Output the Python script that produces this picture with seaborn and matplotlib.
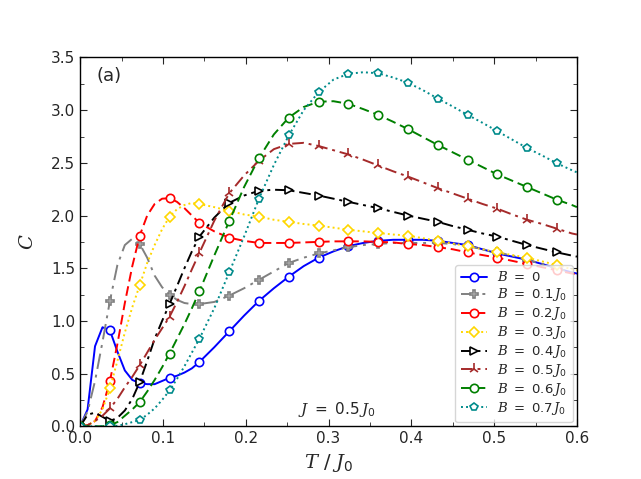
import numpy as np
import pandas as pd
import matplotlib
matplotlib.use("Agg")
import matplotlib.pyplot as plt
import seaborn as sns
from matplotlib.ticker import MultipleLocator

# temperature grid T/J0 (finer at low T where the curves bend sharply)
T = [0.0, 0.009, 0.018, 0.027, 0.036, 0.045, 0.054, 0.063, 0.072, 0.081, 0.09,
     0.099, 0.108, 0.117, 0.126, 0.135, 0.144,
     0.162, 0.18, 0.198, 0.216, 0.234, 0.252, 0.27, 0.288, 0.306, 0.324, 0.342,
     0.36, 0.378, 0.396, 0.414, 0.432, 0.45, 0.468, 0.486, 0.504, 0.522, 0.54,
     0.558, 0.576, 0.594, 0.6]

C_B00 = [0.0, 0.16, 0.76, 0.94, 0.91, 0.71, 0.53, 0.44, 0.41, 0.40, 0.40,
         0.43, 0.46, 0.48, 0.51, 0.55, 0.61,
         0.75, 0.90, 1.05, 1.19, 1.31, 1.42, 1.52, 1.60, 1.66, 1.71, 1.74,
         1.76, 1.77, 1.77, 1.77, 1.76, 1.74, 1.72, 1.68, 1.64, 1.61, 1.58,
         1.54, 1.50, 1.46, 1.45]
C_B01 = [0.0, 0.14, 0.43, 0.80, 1.19, 1.53, 1.72, 1.78, 1.73, 1.60, 1.43,
         1.32, 1.25, 1.20, 1.17, 1.16, 1.16,
         1.18, 1.24, 1.31, 1.39, 1.47, 1.55, 1.60, 1.64, 1.67, 1.70, 1.72,
         1.73, 1.74, 1.74, 1.74, 1.74, 1.73, 1.71, 1.68, 1.65, 1.62, 1.58,
         1.54, 1.50, 1.46, 1.45]
C_B02 = [0.0, 0.01, 0.05, 0.18, 0.43, 0.78, 1.17, 1.52, 1.81, 2.00, 2.11,
         2.16, 2.165, 2.13, 2.07, 2.00, 1.93,
         1.85, 1.79, 1.76, 1.74, 1.74, 1.74, 1.745, 1.75, 1.755, 1.755, 1.755,
         1.75, 1.745, 1.73, 1.72, 1.70, 1.68, 1.65, 1.625, 1.60, 1.57, 1.54,
         1.51, 1.48, 1.45, 1.44]
C_B03 = [0.0, 0.01, 0.05, 0.16, 0.36, 0.62, 0.89, 1.13, 1.34, 1.55, 1.72,
         1.87, 1.99, 2.06, 2.10, 2.12, 2.11,
         2.08, 2.045, 2.01, 1.99, 1.96, 1.94, 1.92, 1.905, 1.885, 1.865, 1.85,
         1.835, 1.82, 1.81, 1.785, 1.76, 1.735, 1.71, 1.68, 1.65, 1.625, 1.60,
         1.565, 1.53, 1.49, 1.48]
C_B04 = [0.0, 0.11, 0.13, 0.09, 0.05, 0.08, 0.15, 0.26, 0.42, 0.62, 0.83,
         1.00, 1.16, 1.33, 1.50, 1.66, 1.80,
         1.98, 2.12, 2.19, 2.235, 2.245, 2.24, 2.215, 2.19, 2.16, 2.13, 2.10,
         2.07, 2.035, 2.00, 1.97, 1.94, 1.90, 1.865, 1.83, 1.80, 1.76, 1.72,
         1.685, 1.65, 1.62, 1.61]
C_B05 = [0.0, 0.01, 0.05, 0.10, 0.17, 0.26, 0.37, 0.47, 0.58, 0.70, 0.82,
         0.93, 1.04, 1.18, 1.33, 1.49, 1.645,
         1.95, 2.21, 2.38, 2.52, 2.63, 2.68, 2.69, 2.66, 2.62, 2.58, 2.53,
         2.475, 2.42, 2.37, 2.315, 2.26, 2.21, 2.16, 2.11, 2.065, 2.01, 1.96,
         1.92, 1.875, 1.83, 1.82]
C_B06 = [0.0, 0.0, 0.0, 0.0, 0.01, 0.04, 0.10, 0.16, 0.23, 0.33, 0.44,
         0.56, 0.69, 0.83, 0.97, 1.12, 1.28,
         1.62, 1.945, 2.27, 2.545, 2.77, 2.93, 3.03, 3.08, 3.085, 3.06, 3.01,
         2.955, 2.89, 2.82, 2.745, 2.67, 2.60, 2.53, 2.46, 2.39, 2.33, 2.27,
         2.21, 2.15, 2.10, 2.08]
C_B07 = [0.0, 0.0, 0.0, 0.0, 0.0, 0.005, 0.02, 0.04, 0.06, 0.11, 0.17,
         0.25, 0.34, 0.45, 0.57, 0.70, 0.83,
         1.12, 1.46, 1.80, 2.16, 2.48, 2.76, 3.00, 3.17, 3.29, 3.345, 3.36,
         3.35, 3.31, 3.26, 3.19, 3.11, 3.035, 2.955, 2.88, 2.80, 2.72, 2.64,
         2.57, 2.495, 2.43, 2.41]

labels = [r"$B\ =\ 0$", r"$B\ =\ 0.1\,J_0$", r"$B\ =\ 0.2\,J_0$", r"$B\ =\ 0.3\,J_0$",
          r"$B\ =\ 0.4\,J_0$", r"$B\ =\ 0.5\,J_0$", r"$B\ =\ 0.6\,J_0$", r"$B\ =\ 0.7\,J_0$"]
series = [C_B00, C_B01, C_B02, C_B03, C_B04, C_B05, C_B06, C_B07]

styles = [
    dict(color="blue", marker="o", ls="-"),
    dict(color="gray", marker="P", ls=(0, (8, 3, 1.5, 3))),
    dict(color="red", marker="o", ls=(0, (5, 2.5))),
    dict(color="gold", marker="D", ls=(0, (1, 1.6)), ms=5.5),
    dict(color="black", marker=">", ls=(0, (6, 2.5, 1.5, 2.5))),
    dict(color="brown", marker="2", ls=(0, (6, 2.5, 1.5, 2.5)), ms=8),
    dict(color="green", marker="o", ls=(0, (5, 2.5))),
    dict(color="darkcyan", marker="p", ls=(0, (1, 1.6))),
]

sns.set_style("ticks")
plt.rcParams["font.family"] = ["DejaVu Sans"]
plt.rcParams["mathtext.fontset"] = "custom"
plt.rcParams["mathtext.it"] = "DejaVu Serif:italic"
plt.rcParams["mathtext.rm"] = "DejaVu Sans"

# markers every 0.036 in T
mark_idx = [i for i, t in enumerate(T) if abs(t / 0.036 - round(t / 0.036)) < 1e-6 and t < 0.59]

fig, ax = plt.subplots(figsize=(6.41, 4.79), dpi=100)

for lab, vals, st in zip(labels, series, styles):
    df = pd.DataFrame({"T": T, "C": vals})
    st = dict(st)
    ms = st.pop("ms", 6)
    mfc = "none" if st["marker"] == "2" else "white"
    sns.lineplot(data=df, x="T", y="C", ax=ax, label=lab, errorbar=None, sort=False,
                 color=st["color"], marker=st["marker"], linestyle=st["ls"],
                 markersize=ms, markerfacecolor=mfc, markeredgecolor=st["color"],
                 markeredgewidth=1.2, linewidth=1.4, markevery=mark_idx)

ax.set_xlim(0, 0.6)
ax.set_ylim(0, 3.5)
ax.xaxis.set_major_locator(MultipleLocator(0.1))
ax.xaxis.set_minor_locator(MultipleLocator(0.05))
ax.yaxis.set_major_locator(MultipleLocator(0.5))
ax.yaxis.set_minor_locator(MultipleLocator(0.25))
ax.xaxis.set_major_formatter(matplotlib.ticker.FormatStrFormatter("%.1f"))
ax.yaxis.set_major_formatter(matplotlib.ticker.FormatStrFormatter("%.1f"))
ax.tick_params(which="both", direction="in", top=True, right=True, labelsize=11)
ax.tick_params(which="major", length=5)
ax.tick_params(which="minor", length=3)
for sp in ax.spines.values():
    sp.set_color("black")
    sp.set_linewidth(1.0)

ax.set_xlabel(r"$T\ /\ J_0$", fontsize=14)
ax.set_ylabel(r"$C$", fontsize=14, labelpad=10)
ax.text(0.02, 3.32, "(a)", fontsize=13, va="center")
ax.text(0.263, 0.16, r"$J\ =\ 0.5\,J_0$", fontsize=11, va="center")

ax.legend(loc="lower right", fontsize=9.5, frameon=True, borderaxespad=0.3,
          handlelength=2.0, labelspacing=0.15)

fig.savefig("out.png", dpi=100)
